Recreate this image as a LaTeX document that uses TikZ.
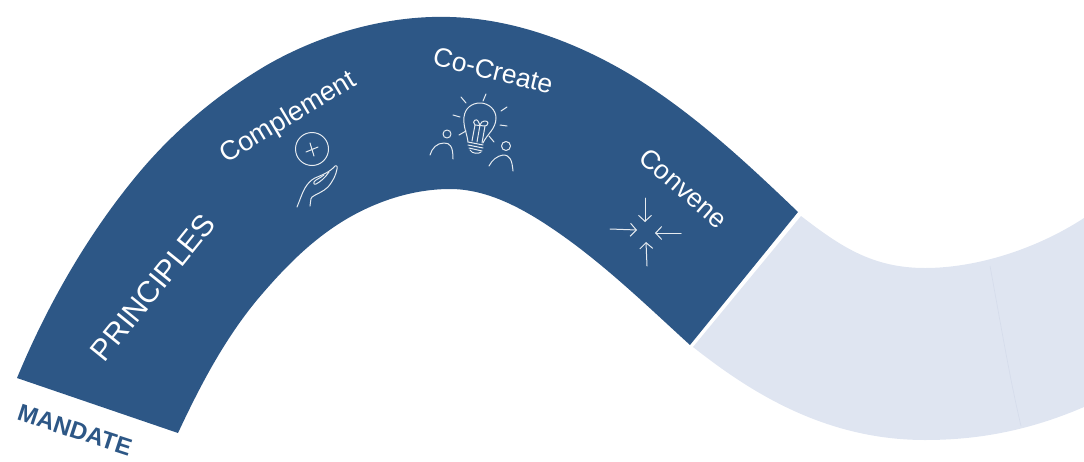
\documentclass[tikz,border=0pt]{standalone}
\usepackage{fontspec}
\setmainfont{Liberation Sans}
\usetikzlibrary{arrows.meta}
\definecolor{bandblue}{HTML}{2D5786}
\definecolor{bandlight}{HTML}{DFE5F1}
\definecolor{seam}{HTML}{D5DCEB}
\tikzset{
  icon/.style={draw=white!88!bandblue,line width=1pt,line cap=round,line join=round},
  barb/.style={icon,-{Straight Barb[length=6pt,width=13pt]}},
  bandlabel/.style={text=white,anchor=base,inner sep=0pt,font=\fontsize{#1}{#1}\selectfont}
}
\begin{document}
\begin{tikzpicture}[x=1pt,y=-1pt]
\useasboundingbox (0,0) rectangle (1084,461);
% light band
\fill[bandlight] (801,216) .. controls (840,246) and (872,268) .. (925,268)
  .. controls (975,268) and (1035,250) .. (1084,218) -- (1084,407)
  .. controls (1035,428) and (985,440) .. (925,440)
  .. controls (825,440) and (750,392) .. (693,347) -- cycle;
\draw[seam,line width=0.6pt] (990,266) .. controls (1000,320) and (1010,380) .. (1021,426);
% dark band
\fill[bandblue] (17,378) .. controls (46,308) and (85,239) .. (133,180)
  .. controls (170,134) and (216,95) .. (267,65)
  .. controls (321,34) and (387,15) .. (450,17)
  .. controls (521,19) and (591,48) .. (650,87)
  .. controls (704,123) and (751,167) .. (798,212)
  -- (690,345)
  .. controls (645,304) and (601,261) .. (550,227)
  .. controls (520,207) and (486,189) .. (450,189)
  .. controls (415,189) and (380,200) .. (350,217)
  .. controls (313,238) and (284,268) .. (257,300)
  .. controls (224,340) and (200,386) .. (178,433) -- cycle;
% texts
\node[bandlabel=30,rotate=51] (principles) at (161,294) {PRINCIPLES};
\node[bandlabel=27,rotate=31] (complement) at (292,124) {Complement};
\node[bandlabel=26.5,rotate=-14] (cocreate) at (491,79.5) {Co-Create};
\node[bandlabel=26.5,rotate=-41] (convene) at (677.5,195) {Convene};
\node[text=bandblue,font=\bfseries\fontsize{24}{24}\selectfont,rotate=-18,inner sep=0pt] (mandate) at (75,430) {MANDATE};
% hand and plus icon
\draw[icon] (312,149) circle (16.5);
\draw[icon] (306,152) -- (318,147) (310,143) -- (314,156);
\draw[icon] (297,207) .. controls (300,200) and (302,193) .. (305,188) .. controls (308,183) and (311,180) .. (315,178) .. controls (322,175) and (330,172) .. (335,166) .. controls (338,165) and (337,168) .. (337,169) .. controls (336,175) and (333,181) .. (328,187) .. controls (323,192) and (316,194) .. (312,197) .. controls (310,199) and (311,203) .. (310,206);
\draw[icon] (329,172) .. controls (325,178) and (320,182) .. (316,184) .. controls (313,185) and (313,182) .. (316,180) .. controls (319,178) and (322,177) .. (324,175);
% bulb icon
\draw[icon] (468,142) .. controls (467,133) and (463,127) .. (464,117) .. controls (465,108) and (472,103) .. (480,103) .. controls (489,103) and (496,110) .. (496,118) .. controls (496,129) and (487,134) .. (483,143);
\draw[icon] (468,142) -- (483,145) (468,145) -- (483,148) (469,148) -- (482,151);
\draw[icon] (470,150) .. controls (472,154) and (479,154) .. (481,152);
\draw[icon] (472,141) -- (475,125) (482,143) -- (485,126) (477,142) -- (480,125);
\draw[icon] (475,125) .. controls (471,121) and (477,118) .. (478,121) -- (480,125) .. controls (481,120) and (488,120) .. (488,123) .. controls (488,125) and (486,126) .. (485,126) -- (475,125);
\draw[icon] (461,97) -- (466,103) (486,94) -- (483,101) (507,107) -- (501,111) (507,126) -- (500,125) (494,142) -- (489,136) (459,135) -- (466,131) (453,115) -- (460,117);
% people
\draw[icon] (447,134) circle (4);
\draw[icon] (430,155) .. controls (432,148) and (437,143) .. (444,143) .. controls (450,143) and (453,146) .. (453,159);
\draw[icon] (506,146) circle (4.5);
\draw[icon] (489,166) .. controls (492,160) and (497,156) .. (503,155) .. controls (510,155) and (512,160) .. (513,171);
% convene arrows
\draw[barb] (645,198) -- (645,222);
\draw[barb] (610,229) -- (637,230);
\draw[barb] (681,233) -- (655,233);
\draw[barb] (647,266) -- (646,242);
\end{tikzpicture}
\end{document}
